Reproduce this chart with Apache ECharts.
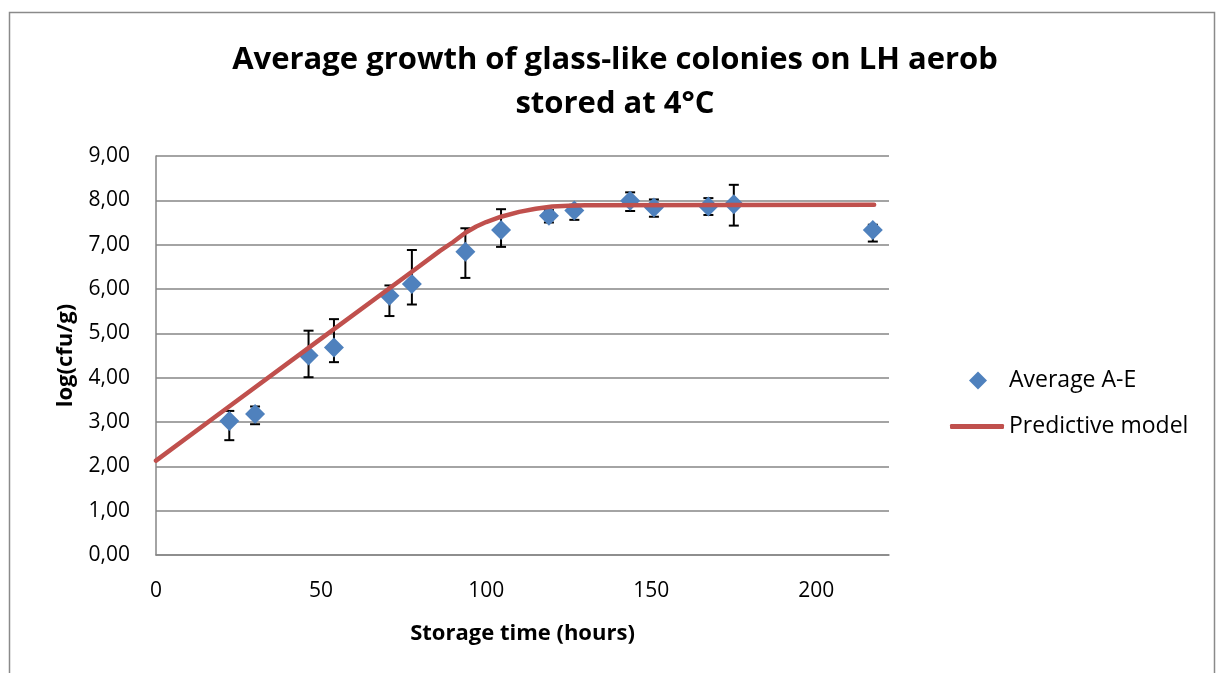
<!DOCTYPE html>
<html>
<head>
<meta charset="utf-8">
<script src="https://cdn.jsdelivr.net/npm/echarts@6/dist/echarts.min.js"></script>
<style>
  html, body { margin: 0; padding: 0; background: #ffffff; }
  #chart { width: 1219px; height: 673px; }
</style>
</head>
<body>
<div id="chart"></div>
<script>
// ---- Data ----
const titleLines = ['Average growth of glass-like colonies on LH aerob', 'stored at 4°C'];
const xTitle = 'Storage time (hours)';
const yTitle = 'log(cfu/g)';
const seriesNames = ['Average A-E', 'Predictive model'];

const hours   = [22.2, 30.0, 46.2, 53.9, 70.7, 77.5, 93.7, 104.5, 119.0, 126.7, 143.6, 150.8, 167.3, 175.0, 217.1];
const avgLog  = [3.02, 3.18, 4.50, 4.68, 5.85, 6.11, 6.84, 7.33, 7.65, 7.77, 7.99, 7.84, 7.86, 7.91, 7.33];
const errLow  = [2.59, 2.95, 4.01, 4.35, 5.39, 5.65, 6.25, 6.95, 7.50, 7.56, 7.76, 7.63, 7.67, 7.43, 7.07];
const errHigh = [3.25, 3.35, 5.06, 5.32, 6.08, 6.88, 7.37, 7.80, 7.78, 7.90, 8.18, 8.02, 8.05, 8.35, 7.45];

const modelHours = [0, 20, 46, 77.5, 86, 90, 93.7, 97, 100, 104.5, 110, 115, 120, 125, 130, 217.5];
const modelLog   = [2.13, 3.23, 4.66, 6.39, 6.86, 7.06, 7.27, 7.41, 7.51, 7.63, 7.74, 7.81, 7.86, 7.88, 7.89, 7.90];

const xTicks = [0, 50, 100, 150, 200];
const yTicks = [0, 1, 2, 3, 4, 5, 6, 7, 8, 9];

// ---- Chart ----
const FONT = "'Open Sans', 'Noto Sans', sans-serif";
const chart = echarts.init(document.getElementById('chart'), null, { renderer: 'canvas' });

const scatterData = hours.map((h, i) => [h, avgLog[i]]);
const errData = hours.map((h, i) => [h, errLow[i], errHigh[i]]);
const modelData = modelHours.map((h, i) => [h, modelLog[i]]);

const option = {
  backgroundColor: '#ffffff',
  animation: false,
  graphic: [{
    type: 'rect',
    shape: { x: 9.5, y: 12.5, width: 1205, height: 720 },
    style: { fill: 'none', stroke: '#8a8a8a', lineWidth: 1.5 },
    silent: true, z: 0
  }],
  title: {
    text: titleLines.join('\n'),
    left: 610,
    top: 33,
    textAlign: 'center',
    textStyle: { fontFamily: FONT, fontWeight: 'bold', fontSize: 31, lineHeight: 44, color: '#000' }
  },
  legend: [{
    data: [{ name: seriesNames[0], icon: 'diamond' }],
    orient: 'vertical',
    left: 969,
    top: 369,
    padding: 0,
    itemWidth: 18,
    itemHeight: 18,
    textStyle: { fontFamily: FONT, fontSize: 23, color: '#000', padding: [0, 0, 0, 17] }
  }, {
    data: [{ name: seriesNames[1], icon: 'roundRect' }],
    orient: 'vertical',
    left: 950,
    top: 415,
    padding: 0,
    itemWidth: 54,
    itemHeight: 5,
    textStyle: { fontFamily: FONT, fontSize: 23, color: '#000' }
  }],
  grid: { left: 156, top: 156, width: 733, height: 399, containLabel: false },
  xAxis: {
    type: 'value',
    min: 0,
    max: 222,
    interval: 50,
    name: xTitle,
    nameLocation: 'middle',
    nameGap: 68,
    nameTextStyle: { fontFamily: FONT, fontWeight: 'bold', fontSize: 22, color: '#000' },
    axisLine: { show: true, onZero: false, lineStyle: { color: '#868686', width: 1.5 } },
    axisTick: { show: false },
    splitLine: { show: false },
    axisLabel: {
      margin: 26,
      fontFamily: FONT, fontSize: 21, color: '#000',
      formatter: v => (xTicks.indexOf(v) >= 0 ? String(v) : '')
    }
  },
  yAxis: {
    type: 'value',
    min: 0,
    max: 9,
    interval: 1,
    name: yTitle,
    nameLocation: 'middle',
    nameGap: 79,
    nameTextStyle: { fontFamily: FONT, fontWeight: 'bold', fontSize: 22, color: '#000' },
    axisLine: { show: true, lineStyle: { color: '#868686', width: 1.5 } },
    axisTick: { show: false },
    splitLine: { show: true, lineStyle: { color: '#868686', width: 1.5 } },
    axisLabel: {
      margin: 26,
      fontFamily: FONT, fontSize: 21, color: '#000',
      formatter: v => (yTicks.indexOf(v) >= 0 ? v.toFixed(2).replace('.', ',') : '')
    }
  },
  series: [{
    name: seriesNames[0] + ' error',
    type: 'custom',
    z: 1,
    silent: true,
    data: errData,
    renderItem: function (params, api) {
      const x = api.value(0);
      const lo = api.coord([x, api.value(1)]);
      const hi = api.coord([x, api.value(2)]);
      const cap = 5;
      const st = { stroke: '#000', lineWidth: 2, fill: 'none' };
      return {
        type: 'group',
        children: [
          { type: 'line', shape: { x1: lo[0], y1: lo[1], x2: hi[0], y2: hi[1] }, style: st },
          { type: 'line', shape: { x1: lo[0] - cap, y1: lo[1], x2: lo[0] + cap, y2: lo[1] }, style: st },
          { type: 'line', shape: { x1: hi[0] - cap, y1: hi[1], x2: hi[0] + cap, y2: hi[1] }, style: st }
        ]
      };
    }
  }, {
    name: seriesNames[0],
    type: 'scatter',
    z: 2,
    symbol: 'diamond',
    symbolSize: 20,
    itemStyle: { color: '#4F81BD', opacity: 1 },
    data: scatterData
  }, {
    name: seriesNames[1],
    type: 'line',
    z: 3,
    showSymbol: false,
    symbol: 'none',
    smooth: false,
    lineStyle: { color: '#C0504D', width: 4.5, cap: 'round', join: 'round' },
    itemStyle: { color: '#C0504D' },
    data: modelData
  }]
};
chart.setOption(option);
</script>
</body>
</html>
